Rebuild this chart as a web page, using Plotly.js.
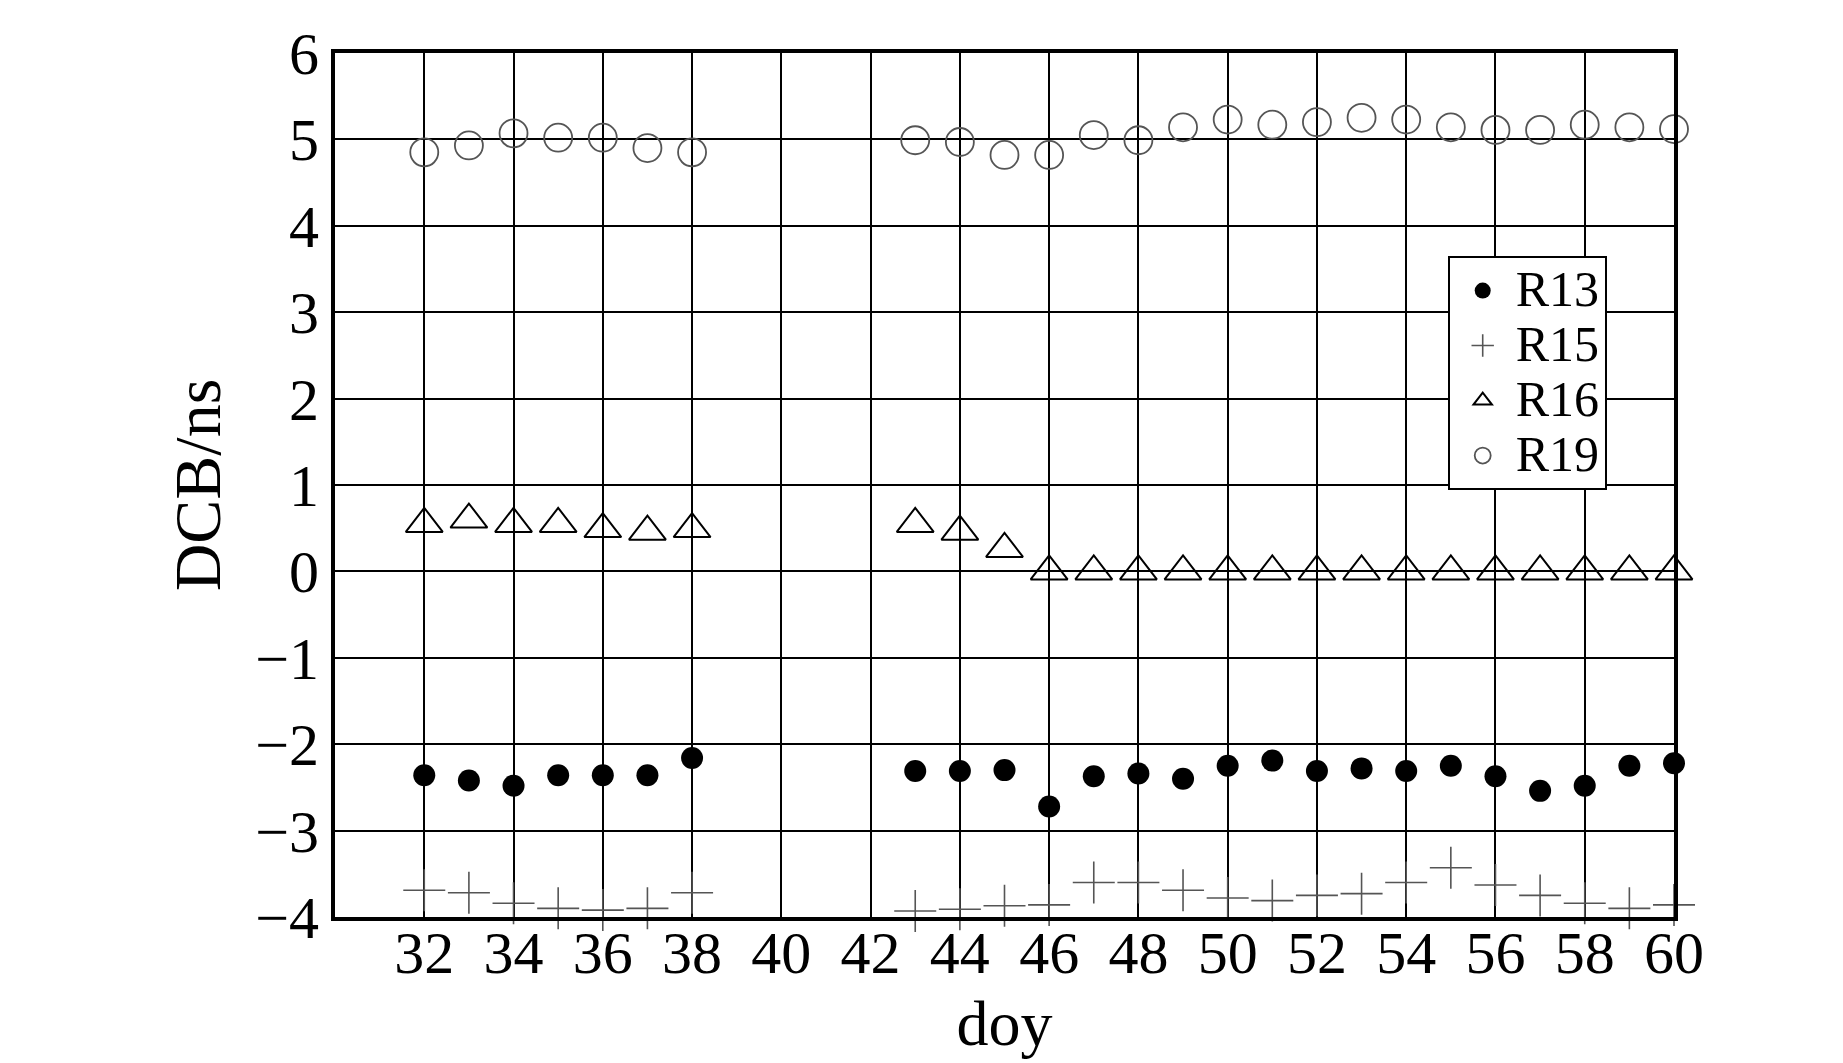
<!DOCTYPE html>
<html>
<head>
<meta charset="utf-8">
<script src="https://cdn.plot.ly/plotly-3.0.1.min.js"></script>
<style>html,body{margin:0;padding:0;background:#fff;}#chart{width:1843px;height:1063px;}</style>
</head>
<body>
<div id="chart"></div>
<script>
// Day of year
const daysA = [32, 33, 34, 35, 36, 37, 38];
const daysB = [43, 44, 45, 46, 47, 48, 49, 50, 51, 52, 53, 54, 55, 56, 57, 58, 59, 60];

// DCB values (ns)
const r13A = [-2.36, -2.42, -2.48, -2.36, -2.36, -2.36, -2.16];
const r13B = [-2.31, -2.31, -2.30, -2.72, -2.37, -2.34, -2.40, -2.25, -2.19, -2.31, -2.28, -2.31, -2.25, -2.37, -2.54, -2.48, -2.25, -2.22];

const r15A = [-3.69, -3.72, -3.84, -3.90, -3.92, -3.90, -3.72];
const r15B = [-3.93, -3.91, -3.87, -3.86, -3.60, -3.60, -3.69, -3.78, -3.81, -3.75, -3.73, -3.60, -3.43, -3.63, -3.75, -3.84, -3.90, -3.86];

const r16A = [0.55, 0.60, 0.55, 0.55, 0.49, 0.46, 0.49];
const r16B = [0.55, 0.46, 0.26, 0, 0, 0, 0, 0, 0, 0, 0, 0, 0, 0, 0, 0, 0, 0];

const r19A = [4.85, 4.93, 5.07, 5.02, 5.02, 4.90, 4.85];
const r19B = [4.99, 4.97, 4.82, 4.82, 5.05, 4.99, 5.14, 5.23, 5.17, 5.20, 5.25, 5.23, 5.14, 5.11, 5.11, 5.17, 5.14, 5.12];

const seriesNames = ['R13', 'R15', 'R16', 'R19'];
const xTickVals = [32, 34, 36, 38, 40, 42, 44, 46, 48, 50, 52, 54, 56, 58, 60];
const yTickVals = [-4, -3, -2, -1, 0, 1, 2, 3, 4, 5, 6];

const FONT = '"Liberation Serif", "Times New Roman", serif';
const days = daysA.concat([null]).concat(daysB);
function join(a, b) { return a.concat([null]).concat(b); }
// larger legend glyphs while keeping the legend rows compact
function legendName(s) { return '<span style="font-size:50px">' + s + '</span>'; }

const traces = [
  { name: legendName(seriesNames[0]), x: days, y: join(r13A, r13B), mode: 'markers', type: 'scatter', cliponaxis: false,
    marker: { symbol: 'circle', size: 22, color: '#000' } },
  { name: legendName(seriesNames[1]), x: days, y: join(r15A, r15B), mode: 'markers', type: 'scatter', cliponaxis: false,
    marker: { symbol: 'cross-thin-open', size: 30, color: '#555', line: { color: '#555', width: 1.6 } } },
  { name: legendName(seriesNames[2]), x: days, y: join(r16A, r16B), mode: 'markers', type: 'scatter', cliponaxis: false,
    marker: { symbol: 'triangle-up-open', size: 32, color: '#000', line: { color: '#000', width: 2 } } },
  { name: legendName(seriesNames[3]), x: days, y: join(r19A, r19B), mode: 'markers', type: 'scatter', cliponaxis: false,
    marker: { symbol: 'circle-open', size: 28, color: '#555', line: { color: '#555', width: 1.8 } } }
];

const layout = {
  width: 1843, height: 1063,
  margin: { l: 335, r: 169, t: 53, b: 146 },
  paper_bgcolor: '#fff', plot_bgcolor: '#fff',
  font: { family: FONT, color: '#000', size: 60 },
  showlegend: true,
  legend: {
    x: 0.831, y: 0.765, xanchor: 'left', yanchor: 'top',
    bgcolor: '#fff', bordercolor: '#000', borderwidth: 2,
    font: { family: FONT, size: 40, color: '#000' },
    itemsizing: 'trace', tracegroupgap: 0, itemwidth: 56
  },
  xaxis: {
    range: [30, 60], tickmode: 'array', tickvals: xTickVals, ticktext: xTickVals.map(String),
    showgrid: true, gridcolor: '#000', gridwidth: 2,
    showline: true, linecolor: '#000', linewidth: 4, mirror: true,
    zeroline: false, ticks: '', ticklabelstandoff: -20,
    tickfont: { family: FONT, size: 60, color: '#000' },
    title: { text: 'doy', font: { family: FONT, size: 64, color: '#000' }, standoff: 16 }
  },
  yaxis: {
    range: [-4, 6], tickmode: 'array', tickvals: yTickVals,
    showgrid: true, gridcolor: '#000', gridwidth: 2,
    showline: true, linecolor: '#000', linewidth: 4, mirror: true,
    zeroline: false, ticks: '',
    tickfont: { family: FONT, size: 60, color: '#000' },
    title: { text: 'DCB/ns', font: { family: FONT, size: 66, color: '#000' }, standoff: 14 }
  }
};

Plotly.newPlot('chart', traces, layout, { displayModeBar: false, staticPlot: true });
</script>
</body>
</html>
